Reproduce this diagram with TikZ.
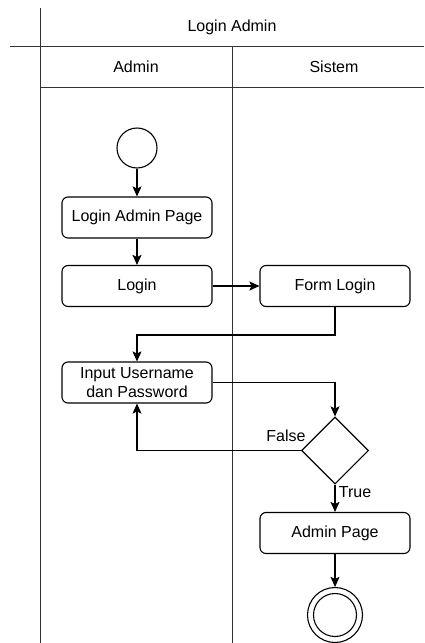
\documentclass[tikz,border=0pt]{standalone}
\usepackage{fontspec}
\setmainfont{Liberation Sans}
\usetikzlibrary{arrows.meta,shapes.geometric}
\begin{document}
\begin{tikzpicture}[x=1pt,y=-1pt,
  font=\fontsize{16}{18.5}\selectfont,
  lane/.style={draw=black!80,line width=1pt},
  act/.style={draw,line width=1.1pt,rounded corners=6pt,minimum width=150pt,minimum height=41pt,inner sep=0pt,align=center},
  arr/.style={draw,line width=1.1pt,-{Stealth[length=10pt,width=9pt,inset=2pt]}},
  lbl/.style={inner sep=1pt}]
\useasboundingbox (0,0) rectangle (424,643);
% lanes
\draw[lane] (40,8) -- (40,643);
\draw[lane] (10,46) -- (424,46);
\draw[lane] (40,87) -- (424,87);
\draw[lane] (232,46) -- (232,643);
\node (title) at (232,27) {Login Admin};
\node (ladmin) at (136,67) {Admin};
\node (lsistem) at (334,67) {Sistem};
% nodes
\node[draw,line width=1.1pt,circle,minimum size=40pt,inner sep=0pt] (start) at (137,148) {};
\node[act] (lap) at (137,217.5) {Login Admin Page};
\node[act] (login) at (137,286) {Login};
\node[act] (form) at (335,286) {Form Login};
\node[act] (input) at (137,382.5) {Input Username\\dan Password};
\node[draw,line width=1.1pt,diamond,aspect=1,minimum width=67pt,minimum height=67pt,inner sep=0pt] (dec) at (335,450.5) {};
\node[act] (apage) at (335,533) {Admin Page};
\node[draw,line width=1.1pt,circle,minimum size=55pt,inner sep=0pt] (end) at (335,615) {};
\node[draw,line width=1.1pt,circle,minimum size=43pt,inner sep=0pt] (endin) at (end) {};
\coordinate (c1) at (335,335);
% connectors
\draw[arr] (start) -- (lap);
\draw[arr] (lap) -- (login);
\draw[arr] (login) -- (form);
\draw[arr] (form.south) -- (c1) -| (input.north);
\draw[arr] (input.east) -| (dec.north);
\draw[arr] (dec.west) -| (input.south);
\draw[arr] (dec.south) -- (apage.north);
\draw[arr] (apage) -- (end);
\node[lbl] (lfalse) at (286,436) {False};
\node[lbl] (ltrue) at (355,492) {True};
\end{tikzpicture}
\end{document}
